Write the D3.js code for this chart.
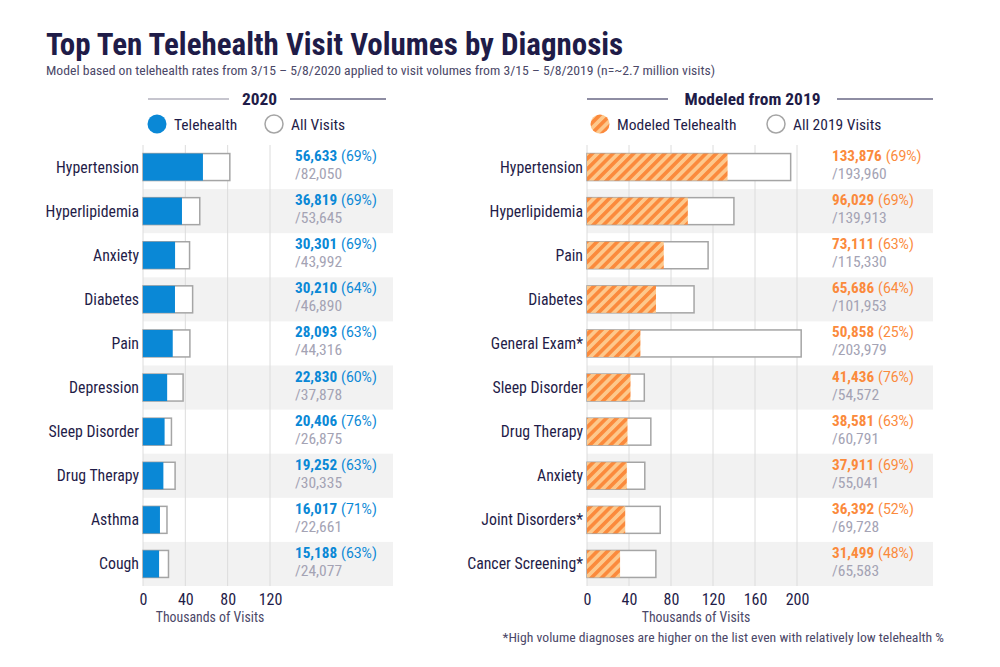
<!DOCTYPE html>
<html>
<head>
<meta charset="utf-8">
<script src="https://cdn.jsdelivr.net/npm/d3@7"></script>
<style>
  body { margin: 0; background: #fff; }
  svg text { font-family: "Roboto", "Liberation Sans Narrow", sans-serif; font-stretch: 80%; }
</style>
</head>
<body>
<svg id="chart" width="1000" height="667"></svg>
<script>
    // 2020 actual telehealth
    const cats2020 = ['Hypertension', 'Hyperlipidemia', 'Anxiety', 'Diabetes', 'Pain', 'Depression', 'Sleep Disorder', 'Drug Therapy', 'Asthma', 'Cough'];
    const tele2020 = [56633, 36819, 30301, 30210, 28093, 22830, 20406, 19252, 16017, 15188];
    const all2020 = [82050, 53645, 43992, 46890, 44316, 37878, 26875, 30335, 22661, 24077];
    const pct2020 = [69, 69, 69, 64, 63, 60, 76, 63, 71, 63];
    const ticks2020 = [0, 40, 80, 120];

    // modeled from 2019 volumes
    const cats2019 = ['Hypertension', 'Hyperlipidemia', 'Pain', 'Diabetes', 'General Exam*', 'Sleep Disorder', 'Drug Therapy', 'Anxiety', 'Joint Disorders*', 'Cancer Screening*'];
    const tele2019 = [133876, 96029, 73111, 65686, 50858, 41436, 38581, 37911, 36392, 31499];
    const all2019 = [193960, 139913, 115330, 101953, 203979, 54572, 60791, 55041, 69728, 65583];
    const pct2019 = [69, 69, 63, 64, 25, 76, 63, 69, 52, 48];
    const ticks2019 = [0, 40, 80, 120, 160, 200];

    const navy = '#1f1c48';
    const blue = '#0a88d6';
    const orange = '#fb8a3c';
    const grey = '#a4a3b4';

    var svg = d3.select('#chart');
    var fmt = d3.format(',');

    var defs = svg.append('defs');
    var pat = defs.append('pattern')
        .attr('id', 'hatch')
        .attr('patternUnits', 'userSpaceOnUse')
        .attr('width', 7.3)
        .attr('height', 7.3)
        .attr('patternTransform', 'rotate(45)');
    pat.append('rect').attr('width', 7.3).attr('height', 7.3).attr('fill', '#fdc88c');
    pat.append('rect').attr('width', 3.6).attr('height', 7.3).attr('fill', orange);

    svg.append('text')
        .attr('x', 46).attr('y', 55)
        .attr('font-size', 31).attr('font-weight', 700)
        .attr('fill', navy)
        .text('Top Ten Telehealth Visit Volumes by Diagnosis');

    svg.append('text')
        .attr('x', 46).attr('y', 75)
        .attr('font-size', 13.7)
        .attr('fill', '#4b4868')
        .text('Model based on telehealth rates from 3/15 \u2013 5/8/2020 applied to visit volumes from 3/15 \u2013 5/8/2019 (n=~2.7 million visits)');

    svg.append('text')
        .attr('x', 944).attr('y', 642)
        .attr('text-anchor', 'end')
        .attr('font-size', 13.7)
        .attr('fill', '#4b4868')
        .text('*High volume diagnoses are higher on the list even with relatively low telehealth %');

    function drawPanel(opts) {
        var g = svg.append('g');

        var x = d3.scaleLinear().domain([0, opts.max]).range([opts.x0, opts.x1]);
        var y = d3.scaleBand().domain(opts.cats).range([145, 586]).paddingInner(0).paddingOuter(0);
        var barH = 27;

        // alternating row bands
        g.selectAll('rect.band')
            .data(opts.cats.filter(function (d, i) { return i % 2 === 1; }))
            .enter().append('rect')
            .attr('class', 'band')
            .attr('x', opts.x0)
            .attr('y', function (d) { return y(d); })
            .attr('width', opts.bandEnd - opts.x0)
            .attr('height', y.bandwidth())
            .attr('fill', '#f2f2f2');

        // grid
        g.selectAll('line.grid')
            .data(opts.ticks)
            .enter().append('line')
            .attr('x1', function (d) { return x(d); })
            .attr('x2', function (d) { return x(d); })
            .attr('y1', 145).attr('y2', 586)
            .attr('stroke', '#dcdcdc')
            .attr('stroke-width', 1);

        var rows = g.selectAll('g.row')
            .data(opts.cats)
            .enter().append('g')
            .attr('class', 'row');

        rows.append('rect')
            .attr('x', x(0))
            .attr('y', function (d) { return y(d) + (y.bandwidth() - barH) / 2; })
            .attr('width', function (d, i) { return x(opts.all[i] / 1000) - x(0); })
            .attr('height', barH)
            .attr('fill', '#fff')
            .attr('stroke', '#a5a5a5')
            .attr('stroke-width', 1.5);

        rows.append('rect')
            .attr('x', x(0))
            .attr('y', function (d) { return y(d) + (y.bandwidth() - barH) / 2; })
            .attr('width', function (d, i) { return x(opts.tele[i] / 1000) - x(0); })
            .attr('height', barH)
            .attr('fill', opts.fill);

        rows.append('text')
            .attr('x', opts.x0 - 4)
            .attr('y', function (d) { return y(d) + y.bandwidth() / 2 + 5.5; })
            .attr('text-anchor', 'end')
            .attr('font-size', 15.8)
            .attr('fill', navy)
            .text(function (d) { return d; });

        var lbl = rows.append('text')
            .attr('x', opts.labelX)
            .attr('y', function (d) { return y(d) + y.bandwidth() / 2 - 6; });
        lbl.append('tspan')
            .attr('font-size', 15.2)
            .attr('font-weight', 700)
            .style('font-stretch', '85%')
            .attr('fill', opts.color)
            .text(function (d, i) { return fmt(opts.tele[i]); });
        lbl.append('tspan')
            .attr('dx', 4)
            .attr('font-size', 14)
            .style('font-stretch', '88%')
            .attr('fill', opts.color)
            .text(function (d, i) { return '(' + opts.pct[i] + '%)'; });

        rows.append('text')
            .attr('x', opts.labelX)
            .attr('y', function (d) { return y(d) + y.bandwidth() / 2 + 12; })
            .attr('font-size', 15.5)
            .style('font-stretch', '87%')
            .attr('fill', grey)
            .text(function (d, i) { return '/' + fmt(opts.all[i]); });

        // axis
        g.append('g')
            .attr('transform', 'translate(0,590)')
            .call(d3.axisBottom(x).tickValues(opts.ticks).tickSize(0).tickPadding(4))
            .call(function (a) {
                a.select('.domain').remove();
                a.selectAll('.tick text')
                    .attr('font-size', 16)
                    .attr('font-family', null)
                    .attr('fill', navy);
            });

        g.append('text')
            .attr('x', opts.titleX)
            .attr('y', 622)
            .attr('text-anchor', 'middle')
            .attr('font-size', 13.8)
            .attr('fill', '#4b4868')
            .text('Thousands of Visits');

        // header with rules
        g.append('line')
            .attr('x1', opts.head[0]).attr('x2', opts.head[1])
            .attr('y1', 99).attr('y2', 99)
            .attr('stroke', opts.leftRule).attr('stroke-width', 1.2);
        g.append('line')
            .attr('x1', opts.head[2]).attr('x2', opts.head[3])
            .attr('y1', 99).attr('y2', 99)
            .attr('stroke', navy).attr('stroke-width', 1.2);
        g.append('text')
            .attr('x', (opts.head[1] + opts.head[2]) / 2)
            .attr('y', 105)
            .attr('text-anchor', 'middle')
            .attr('font-size', 17.4)
            .attr('font-weight', 700)
            .attr('fill', navy)
            .text(opts.heading);

        // legend
        g.append('circle')
            .attr('cx', opts.leg[0]).attr('cy', 124).attr('r', 9.5)
            .attr('fill', opts.fill);
        g.append('text')
            .attr('x', opts.leg[0] + 17).attr('y', 129.5)
            .attr('font-size', 15.5).attr('fill', navy)
            .text(opts.legText[0]);
        g.append('circle')
            .attr('cx', opts.leg[1]).attr('cy', 124).attr('r', 9)
            .attr('fill', '#fff').attr('stroke', '#a5a5a5').attr('stroke-width', 1.5);
        g.append('text')
            .attr('x', opts.leg[1] + 17).attr('y', 129.5)
            .attr('font-size', 15.5).attr('fill', navy)
            .text(opts.legText[1]);
    }

    drawPanel({
        cats: cats2020, tele: tele2020, all: all2020, pct: pct2020, ticks: ticks2020,
        max: 120, x0: 143, x1: 270, bandEnd: 393, labelX: 295, titleX: 210,
        fill: blue, color: blue, leftRule: '#8d8b9e',
        heading: '2020', head: [148, 229, 290, 386],
        leg: [157, 274], legText: ['Telehealth', 'All Visits']
    });

    drawPanel({
        cats: cats2019, tele: tele2019, all: all2019, pct: pct2019, ticks: ticks2019,
        max: 200, x0: 587, x1: 797, bandEnd: 933, labelX: 832, titleX: 696,
        fill: 'url(#hatch)', color: orange, leftRule: navy,
        heading: 'Modeled from 2019', head: [587, 668, 837, 933],
        leg: [600, 776], legText: ['Modeled Telehealth', 'All 2019 Visits']
    });
</script>
</body>
</html>
